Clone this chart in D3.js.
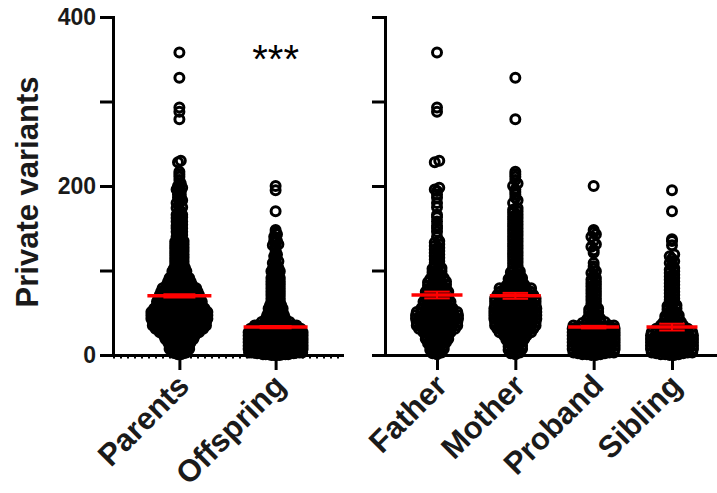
<!DOCTYPE html>
<html>
<head>
<meta charset="utf-8">
<script src="https://cdn.jsdelivr.net/npm/d3@7"></script>
<style>
  body { margin: 0; background: #fff; }
  svg { display: block; font-family: "Liberation Sans", Arial, sans-serif; }
</style>
</head>
<body>
<div class="container"></div>
<script>
const WIDTH = 717;
const HEIGHT = 493;

// categories
var leftCats = ['Parents', 'Offspring'];
var rightCats = ['Father', 'Mother', 'Proband', 'Sibling'];

// y axis
var yTicks = [0, 100, 200, 300, 400];
var yLabels = [0, 200, 400];

// private variant counts per individual
var father = [1, 2, 3, 4, 5, 6, 7, 8, 9, 10, 11, 12, 13, 14, 14, 15,
  16, 17, 17, 18, 19, 19, 20, 21, 21, 22, 23, 23, 24, 24, 25, 26, 26, 27, 27,
  28, 28, 29, 29, 30, 30, 31, 31, 31, 32, 32, 33, 33, 33, 34, 34, 35, 35, 35,
  36, 36, 37, 37, 37, 38, 38, 39, 39, 39, 40, 40, 40, 41, 41, 42, 42, 42, 43, 43, 43,
  44, 44, 44, 45, 45, 46, 46, 46, 47, 47, 47, 48, 48, 49, 49, 49, 50, 50, 51, 51, 51,
  52, 52, 53, 53, 54, 54, 55, 55, 56, 56, 57, 58, 58, 59, 59, 60, 60, 61, 62, 62, 63, 63,
  64, 65, 65, 66, 67, 67, 68, 69, 69, 70, 71, 71, 72, 73, 73, 74, 75, 75,
  76, 77, 78, 78, 79, 80, 81, 82, 82, 83, 84, 85, 86, 86, 87, 88, 89, 90, 91,
  92, 94, 95, 96, 98, 99, 100, 102, 103, 105, 107, 109, 111, 113, 115, 117, 119,
  121, 123, 125, 127, 129, 131, 133, 135, 140, 146, 150, 153, 158, 163, 166, 175,
  180, 186, 190, 194, 196, 198, 228, 230, 288, 293, 358];

var mother = [1, 2, 3, 4, 5, 6, 7, 8, 9, 10, 11, 12, 13, 14, 15, 16, 17, 18, 18, 19,
  20, 21, 21, 22, 23, 23, 24, 24, 25, 25, 26, 26, 27, 27, 28, 28, 29, 29, 30, 30, 30, 31, 31,
  32, 32, 33, 33, 33, 34, 34, 35, 35, 35, 36, 36, 37, 37, 37, 38, 38, 38, 39, 39,
  40, 40, 40, 41, 41, 41, 42, 42, 43, 43, 43, 44, 44, 44, 45, 45, 45, 46, 46, 47, 47, 47,
  48, 48, 48, 49, 49, 49, 50, 50, 51, 51, 51, 52, 52, 52, 53, 53, 53, 54, 54, 55, 55, 55,
  56, 56, 57, 57, 57, 58, 58, 59, 59, 59, 60, 60, 61, 61, 61, 62, 62, 63, 63, 63,
  64, 64, 65, 65, 65, 66, 66, 67, 67, 67, 68, 68, 69, 69, 70, 70, 70, 71, 71,
  72, 72, 73, 73, 74, 74, 75, 75, 76, 76, 77, 77, 78, 78, 79, 79, 80, 81, 82, 82, 83,
  84, 85, 86, 87, 88, 89, 90, 91, 92, 93, 95, 96, 98, 99,
  100, 102, 104, 106, 108, 110, 112, 114, 116, 118, 120, 122, 124, 126, 128, 130,
  132, 134, 136, 138, 140, 142, 144, 146, 148, 150, 152, 154, 156, 158, 160, 162,
  164, 166, 168, 170, 172, 174, 180, 183, 186, 190, 193, 196, 200, 203, 207, 211,
  214, 217, 279, 328];

var proband = [0, 0, 1, 1, 1, 2, 2, 3, 3, 3, 4, 4, 4, 5, 5, 5, 6, 6, 7, 7, 7,
  8, 8, 8, 9, 9, 9, 10, 10, 11, 11, 11, 12, 12, 12, 13, 13, 13, 14, 14, 15, 15, 15,
  16, 16, 16, 17, 17, 17, 18, 18, 19, 19, 19, 20, 20, 20, 21, 21, 21, 22, 22, 23, 23, 23,
  24, 24, 24, 25, 25, 25, 26, 26, 27, 27, 27, 28, 28, 28, 29, 29, 29, 30, 30, 31, 31, 31,
  32, 32, 33, 33, 33, 34, 34, 35, 35, 35, 36, 36, 37, 38, 38, 39, 40, 41, 42, 43,
  44, 46, 47, 48, 50, 51, 52, 54, 55, 57, 59, 61, 63, 65, 67, 69, 71, 73, 75, 77, 79,
  81, 83, 85, 87, 89, 91, 94, 97, 99, 102, 105, 109, 121, 124, 128, 131, 135, 140,
  143, 145, 148, 200];

var sibling = [0, 0, 1, 1, 1, 2, 2, 3, 3, 3, 4, 4, 4, 5, 5, 5, 6, 6, 7, 7, 7,
  8, 8, 8, 9, 9, 9, 10, 10, 11, 11, 11, 12, 12, 12, 13, 13, 13, 14, 14, 15, 15, 15,
  16, 16, 16, 17, 17, 17, 18, 18, 19, 19, 19, 20, 20, 20, 21, 21, 21, 22, 22, 23, 23, 23,
  24, 24, 25, 25, 25, 26, 26, 27, 27, 27, 28, 28, 29, 29, 30, 30, 31, 31,
  32, 33, 33, 34, 35, 35, 36, 37, 38, 38, 39, 40, 41, 42, 43, 44, 45, 46, 47,
  48, 50, 51, 52, 54, 55, 56, 58, 59, 61, 63, 65, 67, 69, 71, 73, 75, 77, 79, 81, 83,
  85, 87, 89, 91, 93, 95, 97, 99, 101, 103, 106, 109, 111, 114, 117, 119,
  130, 135, 137, 170, 195];

var parents = father.concat(mother);
var offspring = proband.concat(sibling);

// mean and SEM shown by the red bars
var leftMeans = [70, 33];
var leftSems = [2, 1.3];
var rightMeans = [71, 70, 33, 33];
var rightSems = [4, 3.5, 1.5, 4];

var sigLabel = '***';

var translate = function(x, y) {
  return `translate(${x},${y})`;
};

var svg = d3.select('.container').append('svg')
  .attr('width', WIDTH)
  .attr('height', HEIGHT);

let yScale = d3.scaleLinear()
  .domain([0, 400])
  .range([355, 17]);

let xLeft = d3.scalePoint()
  .domain(leftCats)
  .range([113, 342])
  .padding(0.69);

let xRight = d3.scalePoint()
  .domain(rightCats)
  .range([385, 724])
  .padding(0.664);

// GraphPad-like column scatter: rows of 4 units, spread sideways, capped width
var swarm = function(values, cx, spacing, cap) {
  var bins = d3.groups(values.slice().sort((a, b) => a - b), v => Math.floor(v / 4));
  var pts = [];
  bins.forEach(([k, vals]) => {
    var n = vals.length;
    var sp = n > 1 ? Math.min(spacing, cap / (n - 1)) : 0;
    var slots = d3.range(n).map(i => (i - (n - 1) / 2) * sp);
    // fill from the centre out
    slots.sort((a, b) => Math.abs(a) - Math.abs(b) || a - b);
    vals.forEach((v, i) => pts.push({ x: cx + slots[i], y: yScale(v) }));
  });
  return pts;
};

var drawGroup = function(values, cx, spacing, cap) {
  svg.append('g').selectAll('circle')
    .data(swarm(values, cx, spacing, cap))
    .join('circle')
    .attr('cx', d => d.x)
    .attr('cy', d => d.y)
    .attr('r', 4.5)
    .attr('fill', 'none')
    .attr('stroke', '#000')
    .attr('stroke-width', 3);
};

var drawMean = function(cx, mean, sem, w) {
  var g = svg.append('g').attr('stroke', '#ff0000');
  g.append('line')
    .attr('x1', cx - w / 2).attr('x2', cx + w / 2)
    .attr('y1', yScale(mean)).attr('y2', yScale(mean))
    .attr('stroke-width', 3.5);
  g.append('line')
    .attr('x1', cx).attr('x2', cx)
    .attr('y1', yScale(mean - sem)).attr('y2', yScale(mean + sem))
    .attr('stroke-width', 2);
  [mean - sem, mean + sem].forEach(v => {
    g.append('line')
      .attr('x1', cx - w / 4).attr('x2', cx + w / 4)
      .attr('y1', yScale(v)).attr('y2', yScale(v))
      .attr('stroke-width', 2);
  });
};

var styleAxis = function(g) {
  g.selectAll('.domain').attr('stroke-width', 3).attr('stroke-linecap', 'square');
  g.selectAll('.tick line').attr('stroke-width', 3);
};

// points
drawGroup(parents, xLeft('Parents'), 2.8, 56);
drawGroup(offspring, xLeft('Offspring'), 2.8, 54);
[father, mother, proband, sibling].forEach((vals, i) => {
  drawGroup(vals, xRight(rightCats[i]), 4.5, 42);
});

// y axes
let yAxisLeft = d3.axisLeft(yScale).tickValues(yTicks).tickSize(13).tickSizeOuter(0)
  .tickPadding(4).tickFormat(d => yLabels.includes(d) ? d : '');
let yAxisRight = d3.axisLeft(yScale).tickValues(yTicks).tickSize(13).tickSizeOuter(0)
  .tickFormat('');

svg.append('g')
  .attr('transform', translate(113, 0))
  .call(yAxisLeft)
  .call(styleAxis)
  .selectAll('text')
  .attr('font-size', 23)
  .attr('font-weight', 'bold')
  .attr('fill', '#1a1a1a');

svg.append('g')
  .attr('transform', translate(385, 0))
  .call(yAxisRight)
  .call(styleAxis);

// x axes
svg.append('g')
  .attr('transform', translate(0, 355))
  .call(d3.axisBottom(xLeft).tickSize(15).tickSizeOuter(0).tickFormat(''))
  .call(styleAxis);

svg.append('g')
  .attr('transform', translate(0, 355))
  .call(d3.axisBottom(xRight).tickSize(15).tickSizeOuter(0).tickFormat(''))
  .call(styleAxis);

// dotted line at y = 0 in the left panel
svg.append('line')
  .attr('x1', 113).attr('x2', 342)
  .attr('y1', yScale(0) + 2.5).attr('y2', yScale(0) + 2.5)
  .attr('stroke', '#000')
  .attr('stroke-width', 2)
  .attr('stroke-dasharray', '2,5');

// mean +- SEM
leftCats.forEach((c, i) => drawMean(xLeft(c), leftMeans[i], leftSems[i], 64));
rightCats.forEach((c, i) => drawMean(xRight(c), rightMeans[i], rightSems[i], 51));

// category labels
var addLabels = function(cats, scale) {
  svg.append('g').selectAll('text')
    .data(cats)
    .join('text')
    .attr('transform', d => translate(scale(d) + 4, 380) + ' rotate(-45)')
    .attr('text-anchor', 'end')
    .attr('dy', '0.35em')
    .attr('font-size', 31)
    .attr('font-weight', 'bold')
    .attr('fill', '#1a1a1a')
    .text(d => d);
};
addLabels(leftCats, xLeft);
addLabels(rightCats, xRight);

// y title
svg.append('text')
  .attr('transform', translate(38, 192) + ' rotate(-90)')
  .attr('text-anchor', 'middle')
  .attr('font-size', 31)
  .attr('font-weight', 'bold')
  .attr('fill', '#1a1a1a')
  .text('Private variants');

// significance
svg.append('text')
  .attr('x', xLeft('Offspring'))
  .attr('y', 73)
  .attr('text-anchor', 'middle')
  .attr('font-size', 40)
  .attr('fill', '#000')
  .text(sigLabel);
</script>
</body>
</html>
